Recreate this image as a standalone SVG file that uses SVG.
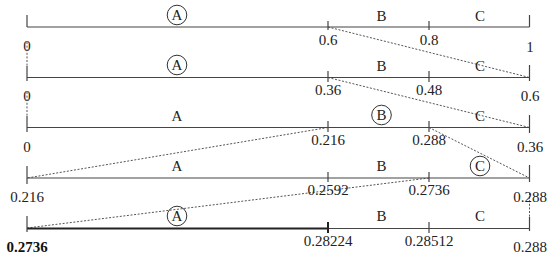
<svg xmlns="http://www.w3.org/2000/svg" width="550" height="258" viewBox="0 0 550 258">
<style>
  .ln{stroke:#444;stroke-width:1.2;fill:none}
  .bold{stroke:#222;stroke-width:2;fill:none}
  .dot{stroke:#555;stroke-width:1;stroke-dasharray:2 1.6;fill:none}
  .t{font-family:"Liberation Serif","Times New Roman",serif;font-size:15px;fill:#222;text-anchor:middle}
  .tb{font-family:"Liberation Serif","Times New Roman",serif;font-size:15px;font-weight:bold;fill:#111;text-anchor:middle}
  .c{stroke:#333;stroke-width:1;fill:none}
</style>
<g id="connectors">
  <line class="dot" x1="328" y1="27" x2="529.5" y2="77.5"/>
  <line class="dot" x1="328" y1="77.5" x2="529.5" y2="127.5"/>
  <line class="dot" x1="328" y1="127.5" x2="27" y2="178"/>
  <line class="dot" x1="429" y1="127.5" x2="529.5" y2="178"/>
  <line class="dot" x1="429" y1="178" x2="27" y2="228"/>
  <line class="dot" x1="27" y1="42" x2="27" y2="66"/>
  <line class="dot" x1="27" y1="92" x2="27" y2="116"/>
  <line class="dot" x1="529.5" y1="193" x2="529.5" y2="217"/>
</g>
<g id="row1">
  <line class="ln" x1="27" y1="27" x2="529.5" y2="27"/>
  <line class="ln" x1="27" y1="15" x2="27" y2="27"/>
  <line class="ln" x1="529.5" y1="15" x2="529.5" y2="27"/>
  <line class="ln" x1="328" y1="21" x2="328" y2="30"/>
  <line class="ln" x1="429" y1="21" x2="429" y2="30"/>
  <circle class="c" cx="177" cy="15" r="9.8"/>
  <text class="t" x="177" y="20">A</text>
  <text class="t" x="381.5" y="21">B</text>
  <text class="t" x="480" y="21">C</text>
  <text class="t" x="27" y="51">0</text>
  <text class="t" x="328" y="45">0.6</text>
  <text class="t" x="429" y="45">0.8</text>
  <text class="t" x="530" y="52">1</text>
</g>
<g id="row2">
  <line class="ln" x1="27" y1="77.5" x2="529.5" y2="77.5"/>
  <line class="ln" x1="27" y1="66" x2="27" y2="81"/>
  <line class="ln" x1="529.5" y1="65" x2="529.5" y2="81"/>
  <line class="ln" x1="328" y1="71" x2="328" y2="82"/>
  <line class="ln" x1="429" y1="71" x2="429" y2="82"/>
  <circle class="c" cx="177" cy="65" r="9.8"/>
  <text class="t" x="177" y="70">A</text>
  <text class="t" x="381.5" y="71">B</text>
  <text class="t" x="480" y="71">C</text>
  <text class="t" x="27" y="101">0</text>
  <text class="t" x="328" y="95">0.36</text>
  <text class="t" x="429" y="95">0.48</text>
  <text class="t" x="530" y="101">0.6</text>
</g>
<g id="row3">
  <line class="ln" x1="27" y1="127.5" x2="529.5" y2="127.5"/>
  <line class="ln" x1="27" y1="116" x2="27" y2="132"/>
  <line class="ln" x1="529.5" y1="115" x2="529.5" y2="133"/>
  <line class="ln" x1="328" y1="121" x2="328" y2="132"/>
  <line class="ln" x1="429" y1="121" x2="429" y2="132"/>
  <text class="t" x="177" y="121">A</text>
  <circle class="c" cx="381.5" cy="115" r="9.8"/>
  <text class="t" x="381.5" y="120">B</text>
  <text class="t" x="480" y="121">C</text>
  <text class="t" x="27" y="152">0</text>
  <text class="t" x="328" y="145">0.216</text>
  <text class="t" x="429" y="145">0.288</text>
  <text class="t" x="530" y="152">0.36</text>
</g>
<g id="row4">
  <line class="ln" x1="27" y1="178" x2="529.5" y2="178"/>
  <line class="ln" x1="27" y1="166" x2="27" y2="184"/>
  <line class="ln" x1="529.5" y1="165" x2="529.5" y2="182"/>
  <line class="ln" x1="328" y1="172" x2="328" y2="182"/>
  <line class="ln" x1="429" y1="172" x2="429" y2="182"/>
  <text class="t" x="177" y="171">A</text>
  <text class="t" x="381.5" y="171">B</text>
  <circle class="c" cx="480" cy="166" r="9.8"/>
  <text class="t" x="480" y="171">C</text>
  <text class="t" x="27" y="202">0.216</text>
  <text class="t" x="328" y="195">0.2592</text>
  <text class="t" x="429" y="195">0.2736</text>
  <text class="t" x="530" y="202">0.288</text>
</g>
<g id="row5">
  <line class="ln" x1="27" y1="228.5" x2="529.5" y2="228.5"/>
  <line class="bold" x1="27" y1="228.5" x2="328" y2="228.5"/>
  <line class="ln" x1="27" y1="216" x2="27" y2="232"/>
  <line class="ln" x1="529.5" y1="217" x2="529.5" y2="231"/>
  <line class="bold" x1="328" y1="222" x2="328" y2="233"/>
  <line class="ln" x1="429" y1="222" x2="429" y2="233"/>
  <circle class="c" cx="177" cy="216" r="9.8"/>
  <text class="t" x="177" y="221">A</text>
  <text class="t" x="381.5" y="221">B</text>
  <text class="t" x="480" y="221">C</text>
  <text class="tb" x="27" y="252">0.2736</text>
  <text class="t" x="328" y="246">0.28224</text>
  <text class="t" x="429" y="246">0.28512</text>
  <text class="t" x="530" y="252">0.288</text>
</g>
</svg>
